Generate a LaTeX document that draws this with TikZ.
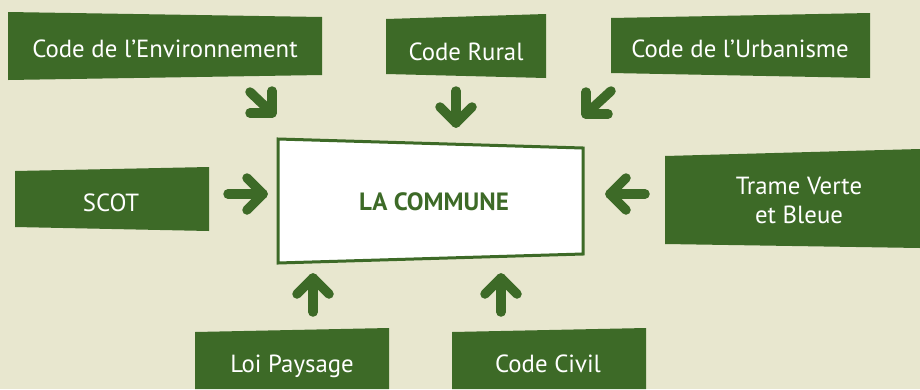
\documentclass[tikz,border=0pt]{standalone}
\usepackage{fontspec}
\usetikzlibrary{calc}
\setmainfont{PT Sans}
\definecolor{leaf}{RGB}{61,106,39}
\definecolor{paper}{RGB}{232,231,207}
\begin{document}
\begin{tikzpicture}[x=1pt,y=-1pt,
  boxfill/.style={fill=leaf},
  label/.style={text=white,font=\fontsize{24.8}{29}\selectfont,anchor=base,inner sep=0pt,align=center},
  arr/.style={draw=leaf,line width=9.5pt,line cap=round,line join=round}]
\fill[paper] (0,0) rectangle (920,389);
\useasboundingbox (0,0) rectangle (920,389);
% boxes
\fill[boxfill] (8,12) -- (322,17) -- (322,75) -- (8,80) -- cycle;
\fill[boxfill] (386,19) -- (546,14) -- (546,78) -- (386,74) -- cycle;
\fill[boxfill] (611,18) -- (870,13) -- (870,78) -- (611,73) -- cycle;
\fill[boxfill] (15,171) -- (209,167) -- (209,231) -- (15,227) -- cycle;
\fill[boxfill] (665,156) -- (920,149) -- (920,248) -- (665,244) -- cycle;
\fill[boxfill] (195,332) -- (389,328) -- (389,389) -- (195,389) -- cycle;
\fill[boxfill] (452,332) -- (646,328) -- (646,389) -- (452,389) -- cycle;
\filldraw[fill=white,draw=leaf,line width=3pt] (278,139) -- (583,148) -- (583,254) -- (278,263) -- cycle;
% labels
\node[label] (env) at (165,57) {Code de l’Environnement};
\node[label] (rural) at (466,60) {Code Rural};
\node[label] (urb) at (740,57) {Code de l’Urbanisme};
\node[label] (scot) at (111,211) {SCOT};
\node[label] (tvb1) at (799,194) {Trame Verte};
\node[label] (tvb2) at (799,223) {et Bleue};
\node[label] (loi) at (292,372) {Loi Paysage};
\node[label] (civil) at (548,372) {Code Civil};
\node[label,text=leaf,font=\fontsize{25}{29}\selectfont\bfseries] (commune) at (434,210) {LA COMMUNE};
% arrows: tail, head vertex
\coordinate (a1t) at (250,92);  \coordinate (a1h) at (272,113);
\coordinate (a2t) at (456,91);  \coordinate (a2h) at (456,123);
\coordinate (a3t) at (611,91);  \coordinate (a3h) at (586,114);
\coordinate (a4t) at (228,194); \coordinate (a4h) at (263,194);
\coordinate (a5t) at (645,194); \coordinate (a5h) at (610,194);
\coordinate (a6t) at (313,312); \coordinate (a6h) at (313,278);
\coordinate (a7t) at (501,312); \coordinate (a7h) at (501,278);
\draw[arr] (a1t) -- (a1h); \draw[arr] ($(a1h)+(-22,0)$) -- (a1h) -- ($(a1h)+(0,-22)$);
\draw[arr] (a2t) -- (a2h); \draw[arr] ($(a2h)+(-16,-16)$) -- (a2h) -- ($(a2h)+(16,-16)$);
\draw[arr] (a3t) -- (a3h); \draw[arr] ($(a3h)+(22,0)$) -- (a3h) -- ($(a3h)+(0,-22)$);
\draw[arr] (a4t) -- (a4h); \draw[arr] ($(a4h)+(-16,-16)$) -- (a4h) -- ($(a4h)+(-16,16)$);
\draw[arr] (a5t) -- (a5h); \draw[arr] ($(a5h)+(16,-16)$) -- (a5h) -- ($(a5h)+(16,16)$);
\draw[arr] (a6t) -- (a6h); \draw[arr] ($(a6h)+(-16,16)$) -- (a6h) -- ($(a6h)+(16,16)$);
\draw[arr] (a7t) -- (a7h); \draw[arr] ($(a7h)+(-16,16)$) -- (a7h) -- ($(a7h)+(16,16)$);
\end{tikzpicture}
\end{document}
